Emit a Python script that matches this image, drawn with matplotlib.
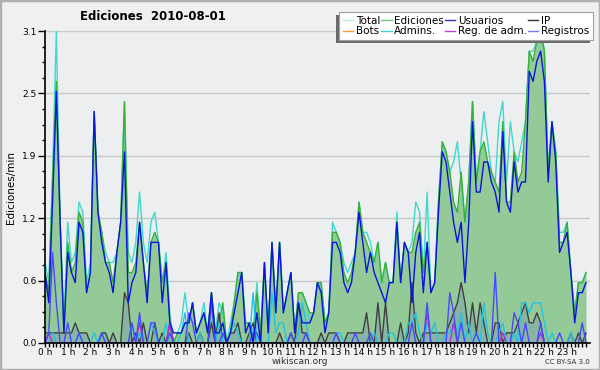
import matplotlib.pyplot as plt
from matplotlib.lines import Line2D
from matplotlib.patches import Rectangle
from matplotlib.transforms import IdentityTransform
import numpy as np

# edits per minute, one value per 10 minute bin (144 bins = 24 h)
total = [
    0.8, 0.6, 1.7, 3.1, 1.2, 0.2, 1.2, 0.8, 0.9, 1.4, 1.3, 0.6,
    0.8, 2.3, 1.3, 1.1, 0.9, 0.8, 0.8, 0.9, 1.2, 2.4, 0.9, 0.8,
    1.0, 1.5, 1.0, 0.8, 1.2, 1.3, 1.0, 0.6, 0.9, 0.3, 0.0, 0.1,
    0.2, 0.5, 0.2, 0.4, 0.1, 0.2, 0.4, 0.1, 0.5, 0.1, 0.4, 0.3,
    0.0, 0.2, 0.4, 0.7, 0.7, 0.2, 0.2, 0.1, 0.6, 0.1, 0.8, 0.1,
    1.0, 0.3, 1.0, 0.3, 0.5, 0.7, 0.1, 0.5, 0.5, 0.4, 0.2, 0.3,
    0.6, 0.6, 0.2, 0.3, 1.2, 1.1, 1.0, 0.8, 0.7, 0.8, 0.9, 1.4,
    1.1, 1.1, 1.0, 0.8, 1.0, 0.6, 0.8, 0.6, 0.6, 1.3, 0.6, 1.0,
    0.9, 1.0, 1.4, 1.3, 0.7, 1.5, 0.5, 0.6, 1.4, 2.0, 1.9, 1.7,
    1.8, 2.0, 1.6, 1.2, 1.6, 2.4, 1.6, 1.9, 2.3, 2.0, 1.7, 1.6,
    2.2, 2.4, 1.6, 2.2, 1.9, 1.8, 2.0, 2.2, 2.9, 2.9, 3.0, 3.1,
    2.9, 1.7, 2.2, 1.9, 1.1, 1.1, 1.2, 0.7, 0.3, 0.6, 0.6, 0.7,
]
ediciones = [
    0.7, 0.5, 1.6, 2.6, 1.2, 0.1, 1.0, 0.7, 0.8, 1.3, 1.2, 0.5,
    0.7, 2.3, 1.3, 1.1, 0.8, 0.8, 0.6, 0.9, 1.2, 2.4, 0.7, 0.7,
    0.8, 1.2, 0.8, 0.5, 1.0, 1.1, 1.0, 0.6, 0.8, 0.2, 0.0, 0.1,
    0.1, 0.2, 0.2, 0.4, 0.1, 0.2, 0.3, 0.1, 0.5, 0.1, 0.2, 0.4,
    0.0, 0.1, 0.4, 0.7, 0.7, 0.2, 0.2, 0.0, 0.5, 0.1, 0.8, 0.1,
    1.0, 0.3, 1.0, 0.3, 0.5, 0.7, 0.1, 0.5, 0.5, 0.4, 0.3, 0.3,
    0.6, 0.6, 0.2, 0.3, 1.1, 1.1, 1.0, 0.7, 0.6, 0.7, 0.9, 1.4,
    1.1, 1.0, 0.9, 0.8, 1.0, 0.6, 0.8, 0.6, 0.6, 1.2, 0.6, 1.0,
    0.9, 0.9, 1.1, 1.2, 0.7, 1.0, 0.5, 0.6, 1.4, 2.0, 1.9, 1.7,
    1.4, 1.3, 1.7, 1.2, 1.6, 2.4, 1.6, 1.9, 2.0, 1.8, 1.7, 1.6,
    1.5, 2.2, 1.4, 1.4, 1.9, 1.6, 1.7, 2.2, 2.9, 2.8, 3.0, 3.1,
    2.9, 1.7, 2.2, 1.9, 1.0, 1.0, 1.2, 0.7, 0.3, 0.6, 0.6, 0.7,
]
usuarios = [
    0.7, 0.4, 1.4, 2.5, 1.2, 0.1, 0.9, 0.7, 0.6, 1.2, 1.1, 0.5,
    0.7, 2.3, 1.3, 1.0, 0.8, 0.7, 0.5, 0.9, 1.2, 1.9, 0.4, 0.6,
    0.7, 1.2, 0.8, 0.4, 1.0, 1.0, 1.0, 0.4, 0.8, 0.2, 0.1, 0.1,
    0.1, 0.2, 0.2, 0.4, 0.1, 0.2, 0.3, 0.1, 0.5, 0.1, 0.1, 0.2,
    0.0, 0.1, 0.3, 0.5, 0.7, 0.1, 0.2, 0.0, 0.3, 0.0, 0.8, 0.1,
    1.0, 0.3, 1.0, 0.3, 0.5, 0.7, 0.1, 0.4, 0.2, 0.2, 0.2, 0.3,
    0.6, 0.5, 0.1, 0.3, 1.0, 1.0, 0.9, 0.6, 0.5, 0.6, 0.9, 1.3,
    1.0, 0.7, 0.9, 0.7, 0.6, 0.5, 0.4, 0.6, 0.6, 1.2, 0.6, 1.0,
    0.9, 0.4, 0.9, 1.1, 0.5, 1.0, 0.5, 0.6, 1.3, 1.9, 1.8, 1.5,
    1.2, 1.0, 1.2, 0.6, 1.2, 2.2, 1.5, 1.5, 1.8, 1.8, 1.6, 1.5,
    1.3, 2.1, 1.4, 1.3, 1.8, 1.5, 1.6, 1.6, 2.7, 2.6, 2.8, 2.9,
    2.6, 1.6, 2.2, 1.8, 0.9, 1.0, 1.1, 0.7, 0.2, 0.5, 0.5, 0.6,
]
ip = [
    0.1, 0.1, 0.1, 0.1, 0.1, 0.1, 0.1, 0.1, 0.2, 0.1, 0.1, 0.1,
    0.0, 0.0, 0.0, 0.1, 0.1, 0.0, 0.1, 0.0, 0.0, 0.5, 0.4, 0.0,
    0.1, 0.0, 0.2, 0.0, 0.0, 0.2, 0.0, 0.1, 0.0, 0.2, 0.0, 0.0,
    0.0, 0.0, 0.1, 0.0, 0.0, 0.1, 0.0, 0.0, 0.2, 0.0, 0.3, 0.0,
    0.0, 0.1, 0.1, 0.2, 0.0, 0.0, 0.1, 0.2, 0.0, 0.0, 0.0, 0.0,
    0.0, 0.0, 0.1, 0.0, 0.0, 0.1, 0.0, 0.4, 0.1, 0.1, 0.0, 0.0,
    0.0, 0.1, 0.0, 0.1, 0.1, 0.1, 0.0, 0.0, 0.1, 0.1, 0.1, 0.1,
    0.1, 0.3, 0.0, 0.0, 0.4, 0.0, 0.4, 0.0, 0.0, 0.0, 0.2, 0.0,
    0.1, 0.6, 0.1, 0.0, 0.1, 0.1, 0.1, 0.1, 0.1, 0.1, 0.1, 0.2,
    0.3, 0.4, 0.6, 0.4, 0.1, 0.4, 0.1, 0.4, 0.2, 0.0, 0.0, 0.2,
    0.2, 0.0, 0.1, 0.1, 0.1, 0.2, 0.3, 0.4, 0.2, 0.2, 0.3, 0.2,
    0.0, 0.0, 0.0, 0.0, 0.0, 0.0, 0.0, 0.1, 0.0, 0.1, 0.0, 0.1,
]
bots = [0.0] * 144
admins = [
    0.0, 0.0, 0.1, 0.0, 0.0, 0.0, 0.0, 0.0, 0.0, 0.1, 0.0, 0.0,
    0.0, 0.1, 0.0, 0.1, 0.0, 0.0, 0.0, 0.0, 0.0, 0.0, 0.0, 0.2,
    0.0, 0.1, 0.0, 0.0, 0.2, 0.1, 0.0, 0.0, 0.2, 0.0, 0.0, 0.0,
    0.1, 0.3, 0.0, 0.0, 0.0, 0.1, 0.0, 0.0, 0.0, 0.0, 0.2, 0.0,
    0.0, 0.1, 0.2, 0.1, 0.0, 0.0, 0.0, 0.5, 0.0, 0.0, 0.0, 0.0,
    0.5, 0.1, 0.2, 0.2, 0.0, 0.0, 0.0, 0.1, 0.4, 0.2, 0.0, 0.0,
    0.0, 0.0, 0.0, 0.0, 0.0, 0.1, 0.1, 0.0, 0.0, 0.0, 0.0, 0.0,
    0.0, 0.0, 0.0, 0.1, 0.0, 0.0, 0.0, 0.1, 0.1, 0.0, 0.0, 0.0,
    0.2, 0.2, 0.3, 0.1, 0.0, 0.2, 0.1, 0.2, 0.0, 0.0, 0.1, 0.1,
    0.2, 0.1, 0.3, 0.0, 0.2, 0.0, 0.1, 0.0, 0.4, 0.1, 0.0, 0.0,
    0.1, 0.2, 0.0, 0.0, 0.1, 0.0, 0.4, 0.4, 0.3, 0.4, 0.4, 0.4,
    0.2, 0.0, 0.1, 0.0, 0.0, 0.0, 0.0, 0.1, 0.0, 0.0, 0.0, 0.0,
]
reg_adm = [
    0.0, 0.1, 0.0, 0.0, 0.0, 0.0, 0.0, 0.0, 0.0, 0.0, 0.0, 0.0,
    0.0, 0.0, 0.0, 0.0, 0.0, 0.0, 0.0, 0.0, 0.0, 0.0, 0.0, 0.0,
    0.0, 0.2, 0.0, 0.0, 0.0, 0.0, 0.0, 0.0, 0.0, 0.2, 0.0, 0.0,
    0.0, 0.0, 0.0, 0.0, 0.0, 0.0, 0.0, 0.0, 0.0, 0.0, 0.0, 0.0,
    0.0, 0.0, 0.0, 0.0, 0.0, 0.0, 0.0, 0.0, 0.0, 0.0, 0.0, 0.0,
    0.0, 0.0, 0.0, 0.0, 0.0, 0.0, 0.0, 0.0, 0.0, 0.0, 0.0, 0.0,
    0.0, 0.0, 0.0, 0.0, 0.0, 0.0, 0.0, 0.0, 0.0, 0.0, 0.0, 0.0,
    0.0, 0.0, 0.0, 0.0, 0.0, 0.0, 0.0, 0.0, 0.0, 0.0, 0.0, 0.0,
    0.0, 0.0, 0.0, 0.0, 0.0, 0.3, 0.0, 0.0, 0.0, 0.0, 0.0, 0.0,
    0.2, 0.0, 0.0, 0.0, 0.0, 0.0, 0.0, 0.0, 0.0, 0.0, 0.0, 0.0,
    0.0, 0.1, 0.0, 0.0, 0.0, 0.0, 0.0, 0.0, 0.0, 0.0, 0.0, 0.1,
    0.0, 0.0, 0.0, 0.0, 0.0, 0.0, 0.0, 0.0, 0.0, 0.0, 0.0, 0.0,
]
registros = [
    0.0, 0.1, 0.9, 0.4, 0.0, 0.0, 0.2, 0.0, 0.0, 0.1, 0.0, 0.0,
    0.0, 0.0, 0.0, 0.1, 0.0, 0.0, 0.0, 0.0, 0.0, 0.0, 0.0, 0.2,
    0.0, 0.3, 0.0, 0.0, 0.2, 0.2, 0.0, 0.0, 0.0, 0.1, 0.0, 0.0,
    0.0, 0.0, 0.3, 0.2, 0.0, 0.0, 0.0, 0.0, 0.4, 0.0, 0.0, 0.1,
    0.0, 0.0, 0.0, 0.0, 0.0, 0.0, 0.0, 0.1, 0.1, 0.0, 0.0, 0.0,
    0.0, 0.0, 0.0, 0.0, 0.0, 0.1, 0.0, 0.0, 0.0, 0.1, 0.0, 0.0,
    0.0, 0.0, 0.0, 0.0, 0.0, 0.1, 0.0, 0.0, 0.0, 0.0, 0.1, 0.0,
    0.0, 0.0, 0.1, 0.0, 0.0, 0.0, 0.0, 0.0, 0.0, 0.0, 0.0, 0.0,
    0.0, 0.2, 0.0, 0.0, 0.0, 0.4, 0.0, 0.0, 0.0, 0.0, 0.0, 0.5,
    0.3, 0.0, 0.2, 0.0, 0.0, 0.0, 0.1, 0.0, 0.0, 0.0, 0.0, 0.7,
    0.0, 0.0, 0.0, 0.0, 0.3, 0.2, 0.0, 0.2, 0.0, 0.0, 0.0, 0.2,
    0.0, 0.0, 0.0, 0.0, 0.1, 0.0, 0.0, 0.0, 0.0, 0.0, 0.2, 0.0,
]

hour_labels = ['%d h' % h for h in range(24)]
ymax = 3.1

x = np.arange(len(total)) / 6.0   # position in hours

fig = plt.figure(figsize=(6, 3.7), dpi=100, facecolor='#f0f0f0')
fig.patches.append(Rectangle((0, 0), 1, 1, transform=fig.transFigure,
                             fill=False, edgecolor='#b0b0b0', lw=2.5))

ax = fig.add_axes([0.075, 0.073, 0.908, 0.843])
ax.set_facecolor('#eceef0')

# filled areas first, then lines on top
ax.fill_between(x, ediciones, color='#94ca97', lw=0, zorder=2)
ax.fill_between(x, ip, color='#6f86c2', alpha=0.3, lw=0, zorder=2)

lw = 1.0
ax.plot(x, total, color='#40d8cc', lw=lw, zorder=3)
ax.plot(x, ediciones, color='#38b038', lw=lw, zorder=3)
ax.plot(x, usuarios, color='#0a14dc', lw=lw, zorder=5)
ax.plot(x, ip, color='#404040', lw=lw, zorder=4)
ax.plot(x, bots, color='#ff9a30', lw=lw, zorder=3)
ax.plot(x, admins, color='#20c4e4', lw=lw, zorder=4)
ax.plot(x, reg_adm, color='#b030e0', lw=lw, zorder=4)
ax.plot(x, registros, color='#4848ff', lw=lw, zorder=4)

ax.set_xlim(0, 24)
ax.set_ylim(0, ymax)

ax.set_xticks(np.arange(24))
ax.set_xticklabels(hour_labels, fontsize=6.5)
ax.set_xticks(np.arange(0, 24, 1 / 6.0), minor=True)
ax.tick_params(axis='x', which='both', length=3, width=1, pad=0.5,
               direction='out', color='black')

yt = np.linspace(0, ymax, 6)
ax.set_yticks(yt)
ax.set_yticklabels(['%.1f' % v for v in yt], fontsize=6.5)
ax.set_yticks(np.linspace(0, ymax, 21), minor=True)
ax.tick_params(axis='y', which='major', length=5, width=1, pad=1)
ax.tick_params(axis='y', which='minor', length=2.2, width=1)

ax.grid(axis='y', which='major', color='#c8c8c8', lw=1, zorder=1)
ax.set_axisbelow(True)

for s in ['top', 'right']:
    ax.spines[s].set_visible(False)
for s in ['left', 'bottom']:
    ax.spines[s].set_linewidth(1.2)
    ax.spines[s].set_zorder(6)

# legend (column order gives the two rows of the original)
names = ['Total', 'Bots', 'Ediciones', 'Admins.', 'Usuarios',
         'Reg. de adm.', 'IP', 'Registros']
cols = ['#a8ece4', '#ff9a30', '#70cc70', '#40d0e0', '#3030d0',
        '#c040e0', '#303030', '#7878f0']
handles = [Line2D([], [], color=c, lw=1) for c in cols]
leg = fig.legend(handles, names, ncol=4, loc='upper right',
                 bbox_to_anchor=(593 / 600, 1 - 12 / 370),
                 fontsize=7.5, handlelength=1.0, handletextpad=0.25,
                 columnspacing=0.1, labelspacing=0.05, borderpad=0.35,
                 borderaxespad=0, fancybox=False, framealpha=1,
                 edgecolor='#a0a0a0')
leg.get_frame().set_linewidth(0.8)
leg.set_zorder(10)

# dark drop shadow to the lower left of the legend box
fig.canvas.draw()
bb = leg.get_window_extent()
fig.patches.append(Rectangle((bb.x0 - 3, bb.y0 - 3), bb.width, bb.height,
                             transform=IdentityTransform(),
                             facecolor='#6a6a6a', lw=0, zorder=9))

fig.text(153 / 600, 1 - 16 / 370, 'Ediciones  2010-08-01', ha='center',
         va='center', fontsize=8.5, fontweight='bold')
fig.text(11 / 600, 1 - 188 / 370, 'Ediciones/min', rotation=90,
         ha='center', va='center', fontsize=7.5)
fig.text(300 / 600, 1 - 361 / 370, 'wikiscan.org', ha='center',
         va='center', fontsize=6.5, color='#303030')
fig.text(590 / 600, 1 - 362 / 370, 'CC BY-SA 3.0', ha='right',
         va='center', fontsize=5, color='#303030')

fig.savefig('out.png', dpi=100, facecolor=fig.get_facecolor())
